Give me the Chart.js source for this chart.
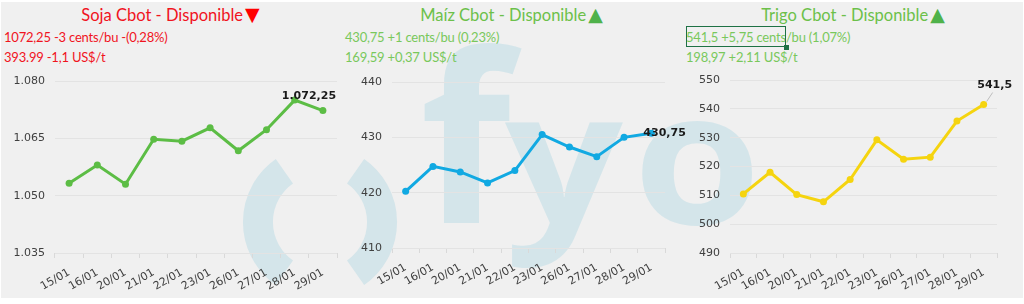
<!DOCTYPE html>
<html>
<head>
<meta charset="utf-8">
<script src="https://cdn.jsdelivr.net/npm/chart.js@4.4.1/dist/chart.umd.min.js"></script>
<style>
    html, body { margin: 0; padding: 0; background: #ffffff; }
    #lienzo { position: relative; width: 1024px; height: 304px; overflow: hidden; background: #ffffff; }
    #fondo { position: absolute; left: 1px; top: 2px; width: 1022px; height: 296px; background: #f0f0f0; }
    #marca { position: absolute; left: 0; top: 0; }
    .panel { position: absolute; top: 0; height: 70px; }
    .titulo { position: absolute; left: 0; right: 0; top: 5px; text-align: center; font-family: Lato;
              font-size: 16.5px; line-height: 1; white-space: nowrap; }
    .sub { position: absolute; left: 4px; font-family: Lato; font-size: 13px; letter-spacing: -0.2px;
           line-height: 1; white-space: nowrap; }
    .rojo { color: #f0141e; }
    .verde { color: #6cc04a; }
    .sub.verde { color: #79c85c; }
    .tri-rojo { color: #ff0000; font-family: 'DejaVu Sans'; font-size: 19px; margin-left: 2px; }
    .tri-verde { color: #4fb24a; font-family: 'DejaVu Sans'; font-size: 19px; margin-left: 2px; }
    .seleccion { position: absolute; left: 686px; top: 26px; width: 98px; height: 19px; border: 1.5px solid #1e7145; }
    .seleccion::after { content: ''; position: absolute; right: -4px; bottom: -4px; width: 5px; height: 5px; background: #1e7145; }
    canvas { position: absolute; top: 0; }
</style>
</head>
<body>
<div id="lienzo">
    <div id="fondo"></div>
    <!-- marca de agua -->
    <svg id="marca" width="1024" height="304">
        <path d="M 284.4 171.2 A 62 62 0 0 0 284.4 272.8" stroke="#d4e5ea" stroke-width="30" fill="none"/>
        <path d="M 355.6 171.2 A 62 62 0 0 1 355.6 272.8" stroke="#d4e5ea" stroke-width="30" fill="none"/>
        <text x="420" y="223" font-family="Open Sans" font-weight="700" font-size="235" fill="#d4e5ea">f</text>
        <text transform="scale(1.12,1)" x="451" y="224" letter-spacing="9" font-family="Open Sans" font-weight="700"
              font-size="185" fill="#d4e5ea">yo</text>
    </svg>

    <div class="panel" style="left:0;width:341px;">
        <div class="titulo rojo">Soja Cbot - Disponible<span class="tri-rojo">▼</span></div>
        <div class="sub rojo" style="top:31px;">1072,25 -3 cents/bu -(0,28%)</div>
        <div class="sub rojo" style="top:51px;">393.99 -1,1 US$/t</div>
    </div>
    <div class="panel" style="left:341px;width:341px;">
        <div class="titulo verde">Maíz Cbot - Disponible<span class="tri-verde">▲</span></div>
        <div class="sub verde" style="top:31px;">430,75 +1 cents/bu (0,23%)</div>
        <div class="sub verde" style="top:51px;">169,59 +0,37 US$/t</div>
    </div>
    <div class="panel" style="left:682px;width:342px;">
        <div class="titulo verde">Trigo Cbot - Disponible<span class="tri-verde">▲</span></div>
        <div class="sub verde" style="top:31px;">541,5 +5,75 cents/bu (1,07%)</div>
        <div class="sub verde" style="top:51px;">198,97 +2,11 US$/t</div>
    </div>
    <div class="seleccion"></div>

    <canvas id="graficoSoja" width="341" height="304" style="left:0;"></canvas>
    <canvas id="graficoMaiz" width="350" height="304" style="left:341px;"></canvas>
    <canvas id="graficoTrigo" width="342" height="304" style="left:682px;"></canvas>
</div>

<script>
// Datos
const fechas = ['15/01', '16/01', '20/01', '21/01', '22/01', '23/01', '26/01', '27/01', '28/01', '29/01'];
const soja = [1053.25, 1058, 1053, 1064.75, 1064.25, 1067.75, 1061.75, 1067.25, 1075, 1072.25];
const maiz = [420.25, 424.75, 423.75, 421.75, 424, 430.5, 428.25, 426.5, 430, 430.75];
const trigo = [510.5, 518, 510.25, 507.75, 515.5, 529.25, 522.5, 523.25, 535.75, 541.5];

// Escalas del eje Y: [mínimo, máximo, paso]
const escalaSoja = [1035, 1080, 15];
const escalaMaiz = [410, 440, 10];
const escalaTrigo = [490, 550, 10];

// Formato numérico con punto de miles y coma decimal.
function formato(v) {
    const partes = String(v).split('.');
    const entero = partes[0].replace(/\B(?=(\d{3})+(?!\d))/g, '.');
    return partes[1] ? entero + ',' + partes[1] : entero;
}

// Plugin para la etiqueta del último valor.
const etiquetaFinal = {
    id: 'etiquetaFinal',
    afterDatasetsDraw(chart, args, opts) {
        const meta = chart.getDatasetMeta(0);
        const i = meta.data.length - 1;
        const punto = meta.data[i];
        const valor = chart.data.datasets[0].data[i];
        const ctx = chart.ctx;
        const x = punto.x + opts.dx;
        const y = punto.y + opts.dy;
        ctx.save();
        if (opts.guia) {
            ctx.strokeStyle = '#bdbdbd';
            ctx.lineWidth = 1;
            ctx.beginPath();
            ctx.moveTo(punto.x + 3, punto.y - 3);
            ctx.lineTo(x - 2, y + 7);
            ctx.stroke();
        }
        ctx.font = 'bold 11px "DejaVu Sans"';
        ctx.fillStyle = '#1a1a1a';
        ctx.textAlign = opts.alinear;
        ctx.textBaseline = 'middle';
        ctx.fillText(formato(valor), x, y);
        ctx.restore();
    }
};

const fuenteEje = { family: 'DejaVu Sans', size: 11 };

function crearGrafico(id, valores, color, escala, medidas, etiqueta) {
    const ctx = document.getElementById(id).getContext('2d');
    return new Chart(ctx, {
        type: 'line',
        plugins: [etiquetaFinal],
        data: {
            labels: fechas,
            datasets: [{
                data: valores,
                borderColor: color,
                backgroundColor: color,
                borderWidth: 3,
                pointRadius: 3.5,
                pointBorderWidth: 0,
                tension: 0
            }]
        },
        options: {
            responsive: false,
            animation: false,
            layout: { padding: { top: medidas.arriba, right: medidas.derecha, left: 0, bottom: 0 } },
            plugins: {
                legend: { display: false },
                tooltip: { enabled: false },
                etiquetaFinal: etiqueta
            },
            scales: {
                x: {
                    offset: true,
                    grid: { display: true, drawOnChartArea: false, offset: true, tickLength: 5, color: '#d9d9d9' },
                    border: { display: false },
                    ticks: { minRotation: 30, maxRotation: 30, autoSkip: false, font: fuenteEje, color: '#404040', padding: 8 },
                    afterFit: function (s) { s.height = medidas.altoX; }
                },
                y: {
                    min: escala[0],
                    max: escala[1],
                    ticks: { stepSize: escala[2], callback: formato, padding: 10, font: fuenteEje, color: '#404040' },
                    grid: { color: '#e3e3e3', drawTicks: false },
                    border: { display: false },
                    afterFit: function (s) { s.width = medidas.anchoY; }
                }
            }
        }
    });
}

crearGrafico('graficoSoja', soja, '#5cbd45', escalaSoja,
    { arriba: 81, derecha: 3, altoX: 51, anchoY: 55 },
    { dx: -14, dy: -14, alinear: 'center', guia: false });
crearGrafico('graficoMaiz', maiz, '#11a9e2', escalaMaiz,
    { arriba: 82, derecha: 26, altoX: 56, anchoY: 51 },
    { dx: -8, dy: 0, alinear: 'left', guia: false });
crearGrafico('graficoTrigo', trigo, '#f5d40f', escalaTrigo,
    { arriba: 80, derecha: 27, altoX: 51, anchoY: 48 },
    { dx: 11, dy: -19, alinear: 'center', guia: true });
</script>
</body>
</html>
